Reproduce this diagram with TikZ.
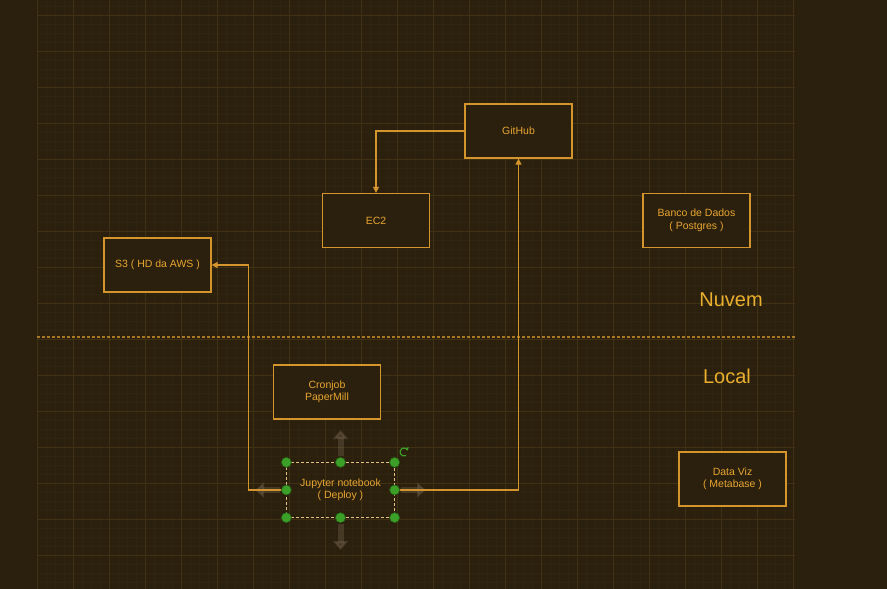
\documentclass[tikz,border=0pt]{standalone}
\usepackage{fontspec}
\setmainfont{Liberation Sans}
\usetikzlibrary{arrows.meta}

\definecolor{bgDark}{RGB}{43,32,13}
\definecolor{gridMajor}{RGB}{64,49,21}
\definecolor{gridMinor}{RGB}{48,36,15}
\definecolor{lineOrange}{RGB}{212,150,44}
\definecolor{textOrange}{RGB}{232,166,50}
\definecolor{handleGreen}{RGB}{60,160,40}

\tikzset{
  boxRect/.style={rectangle, draw=lineOrange, line width=1.3pt, fill=bgDark, text=textOrange, align=center, inner sep=0pt, minimum width=107pt, minimum height=54pt, font=\fontsize{10.5}{12.5}\selectfont},
  zoneLabel/.style={text=textOrange!90!yellow, font=\fontsize{20}{24}\selectfont},
  flowArrow/.style={draw=lineOrange, line width=1.3pt, -{Triangle[length=6pt,width=6pt]}},
  selectHandle/.style={circle, draw=handleGreen!60!black, fill=handleGreen, line width=0.6pt, minimum size=10pt, inner sep=0pt},
  hoverArrow/.style={draw=gray!70!brown, opacity=0.25, line width=6pt, -{Triangle[length=9pt,width=15pt]}}
}

\begin{document}
\begin{tikzpicture}[x=1pt,y=-1pt]

\useasboundingbox (0,0) rectangle (887,589);
\fill[bgDark] (0,0) rectangle (887,589);

% grid
\foreach \gx in {37,46,...,795} \draw[gridMinor, line width=0.4pt] (\gx,0) -- (\gx,589);
\foreach \gy in {6,15,...,589} \draw[gridMinor, line width=0.4pt] (37,\gy) -- (795,\gy);
\foreach \gx in {37,73,...,795} \draw[gridMajor, line width=0.9pt] (\gx,0) -- (\gx,589);
\foreach \gy in {15,51,...,589} \draw[gridMajor, line width=0.9pt] (37,\gy) -- (795,\gy);

% separator nuvem / local
\coordinate (sepLeft) at (37,337);
\coordinate (sepRight) at (795,337);
\draw[lineOrange, opacity=0.75, line width=1.2pt, dash pattern=on 3pt off 2pt] (sepLeft) -- (sepRight);

\node (nuvemLabel) [zoneLabel] at (731,300) {Nuvem};
\node (localLabel) [zoneLabel] at (727,376) {Local};

% boxes
\node (githubRect) [boxRect] at (518.5,131) {GitHub};
\node (ec2Rect) [boxRect] at (376,220.5) {EC2};
\node (s3Rect) [boxRect] at (157.5,265) {S3 ( HD da AWS )};
\node (bancoRect) [boxRect] at (696.5,220.5) {Banco de Dados\\( Postgres )};
\node (cronRect) [boxRect] at (327,392) {Cronjob\\PaperMill};
\node (dataVizRect) [boxRect] at (732.5,479) {Data Viz\\( Metabase )};

% selected box with hover arrows
\coordinate (hoverUp) at (340.5,430);
\coordinate (hoverDown) at (340.5,550);
\coordinate (hoverLeft) at (255,490);
\coordinate (hoverRight) at (426,490);
\draw[hoverArrow] (340.5,456) -- (hoverUp);
\draw[hoverArrow] (340.5,524) -- (hoverDown);
\draw[hoverArrow] (280,490) -- (hoverLeft);
\draw[hoverArrow] (401,490) -- (hoverRight);

\node (jupyterRect) [boxRect, draw=none, fill=none] at (340.5,490) {Jupyter notebook\\( Deploy )};
\draw[lineOrange!60!white, line width=0.8pt, dash pattern=on 3pt off 2pt] (jupyterRect.north west) rectangle (jupyterRect.south east);

% connectors
\draw[flowArrow] (githubRect.west) -| (ec2Rect.north);
\draw[flowArrow] (jupyterRect.west) -- ++(-38,0) |- (s3Rect.east);
\draw[flowArrow] (jupyterRect.east) -| (githubRect.south);

% selection handles
\foreach \anc in {north west,north,north east,west,east,south west,south,south east}
  \node[selectHandle] at (jupyterRect.\anc) {};
\draw[handleGreen, line width=1.2pt, -{Triangle[length=3pt,width=4pt]}] (404,452) ++(60:4) arc (60:340:4);

\end{tikzpicture}
\end{document}
